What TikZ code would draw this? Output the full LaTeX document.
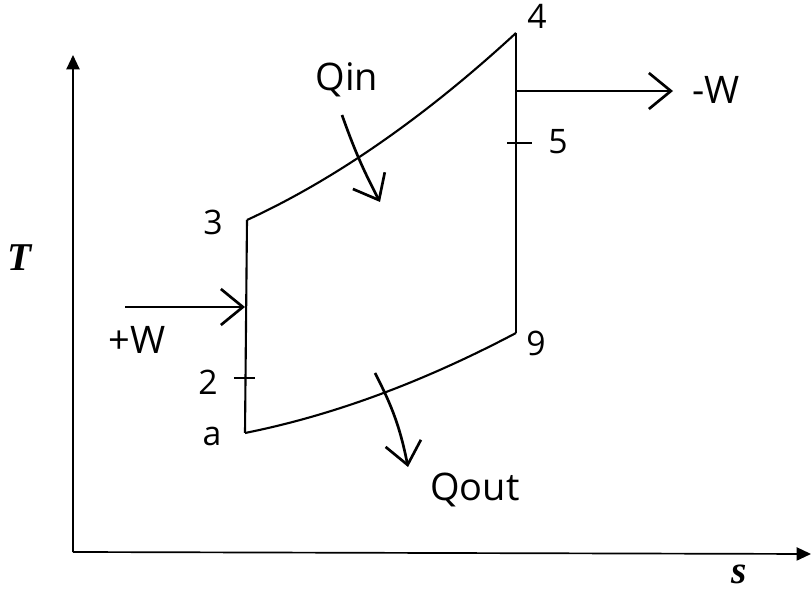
\documentclass[tikz,border=0pt]{standalone}
\usepackage{fontspec}
\setmainfont{Liberation Serif}
\newfontfamily\handfont{Open Sans}
\usetikzlibrary{arrows.meta}
\tikzset{
  axis/.style={line width=1.2pt,-{Triangle[length=3.6mm,width=3.3mm]}},
  proc/.style={line width=1.5pt},
  flow/.style={line width=1.9pt,-{Straight Barb[length=5.5mm,width=9mm]}},
  tickmark/.style={line width=1.5pt},
  hand/.style={font=\handfont\fontsize{24}{26}\selectfont},
  handbig/.style={font=\handfont\fontsize{27}{30}\selectfont},
  axlabel/.style={font=\bfseries\itshape\fontsize{28}{30}\selectfont},
}

\begin{document}
\begin{tikzpicture}[x=0.025cm,y=-0.025cm]
  \useasboundingbox (0,0) rectangle (811,590);
  % axes
  \coordinate (o) at (73,552);
  \coordinate (ytip) at (73,55);
  \coordinate (xtip) at (811,554);
  \draw[axis] (o) -- (ytip);
  \draw[axis] (o) -- (xtip);
  \node[axlabel] (tlab) at (20,258) {T};
  \node[axlabel] (slab) at (739,574) {s};
  % state points
  \coordinate (pa) at (245,433);
  \coordinate (p2) at (245,378);
  \coordinate (win) at (245,307);
  \coordinate (p3) at (247,220);
  \coordinate (p4) at (516,33);
  \coordinate (wout) at (516,91);
  \coordinate (p5) at (516,143);
  \coordinate (p9) at (516,333);
  % cycle
  \draw[proc] (pa) -- (p3);
  \draw[proc] (p3) .. controls (336,179) and (426,116) .. (p4);
  \draw[proc] (p4) -- (p9);
  \draw[proc] (p9) .. controls (425,381) and (335,415) .. (pa);
  \draw[tickmark] ([xshift=-0.28cm]p2) -- ([xshift=0.25cm]p2);
  \draw[tickmark] ([xshift=-0.22cm]p5) -- ([xshift=0.4cm]p5);
  % labels
  \node[hand] (l3) at (213,222) {3};
  \node[hand] (l4) at (537,16) {4};
  \node[hand] (l5) at (558,142) {5};
  \node[hand] (l9) at (536,343) {9};
  \node[hand] (l2) at (208,382) {2};
  \node[hand] (la) at (212,436) {a};
  % heat
  \node[handbig] (qin) at (347,80) {Qin};
  \coordinate (qinS) at (342,115);
  \coordinate (qinE) at (380,202);
  \draw[flow] (qinS) to[bend right=4] (qinE);
  \node[handbig] (qout) at (475,490) {Qout};
  \coordinate (qoutS) at (375,373);
  \coordinate (qoutE) at (408,467);
  \draw[flow] (qoutS) to[bend left=8] (qoutE);
  % work
  \coordinate (wS) at (125,307);
  \draw[flow] (wS) -- (win);
  \node[handbig] (wplus) at (137,340) {+W};
  \coordinate (woutE) at (673,91);
  \draw[flow] (wout) -- (woutE);
  \node[handbig] (wminus) at (716,90) {-W};
\end{tikzpicture}
\end{document}
